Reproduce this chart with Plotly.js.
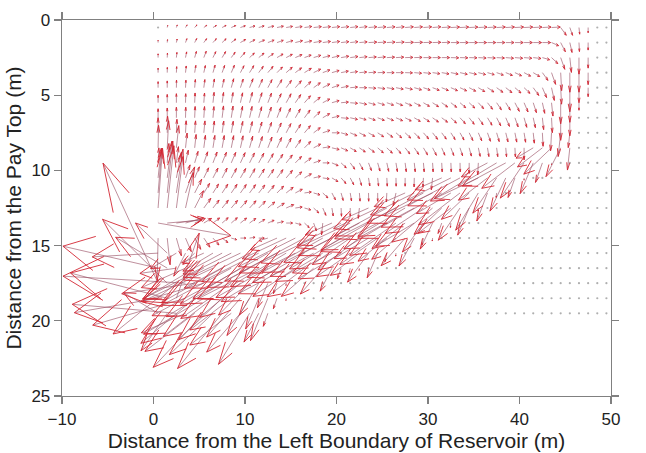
<!DOCTYPE html>
<html>
<head>
<meta charset="utf-8">
<script src="https://cdn.plot.ly/plotly-3.0.1.min.js"></script>
<style>html,body{margin:0;padding:0;background:#fff;}#chart{width:646px;height:453px;}</style>
</head>
<body>
<div id="chart"></div>
<script>
// Grid of the velocity field (m)
const gridX = [0.5,1.5,2.5,3.5,4.5,5.5,6.5,7.5,8.5,9.5,10.5,11.5,12.5,13.5,14.5,15.5,16.5,17.5,18.5,19.5,
  20.5,21.5,22.5,23.5,24.5,25.5,26.5,27.5,28.5,29.5,30.5,31.5,32.5,33.5,34.5,35.5,36.5,37.5,38.5,39.5,
  40.5,41.5,42.5,43.5,44.5,45.5,46.5,47.5,48.5,49.5];
const gridY = [0.5,1.5,2.5,3.5,4.5,5.5,6.5,7.5,8.5,9.5,10.5,11.5,12.5,13.5,14.5,15.5,16.5,17.5,18.5,19.5];

// Drawn arrow length (m) per row (depth) and column
const arrowLength = [
 [0.05,0.15,0.2,0.25,0.3,0.35,0.4,0.45,0.5,0.55, 0.6,0.6,0.65,0.7,0.7,0.75,0.8,0.85,0.85,0.85, 0.85,0.85,0.85,0.9,0.9,0.9,0.9,0.9,0.9,0.9, 0.9,0.95,0.95,0.95,0.95,0.95,0.95,0.95,0.95,0.95, 0.95,0.95,0.95,0.95,0.8,0.6,0.45,0.35,0.05,0.05],
 [0.15,0.2,0.25,0.3,0.35,0.4,0.45,0.5,0.55,0.6, 0.6,0.65,0.7,0.7,0.75,0.8,0.8,0.85,0.85,0.85, 0.85,0.85,0.85,0.9,0.9,0.9,0.9,0.9,0.9,0.9, 0.9,0.9,0.9,0.9,0.9,0.9,0.9,0.9,0.9,0.9, 0.9,0.9,0.9,0.8,0.8,0.7,0.6,0.5,0.05,0.05],
 [0.25,0.3,0.35,0.4,0.45,0.5,0.5,0.55,0.55,0.6, 0.6,0.65,0.65,0.7,0.7,0.75,0.75,0.8,0.8,0.8, 0.85,0.85,0.85,0.85,0.85,0.85,0.85,0.85,0.85,0.85, 0.85,0.85,0.85,0.85,0.85,0.85,0.85,0.85,0.85,0.85, 0.85,0.85,0.8,0.8,0.9,1.0,1.1,0.7,0.05,0.05],
 [0.3,0.35,0.4,0.45,0.5,0.5,0.55,0.55,0.6,0.6, 0.65,0.65,0.7,0.7,0.75,0.75,0.8,0.8,0.8,0.8, 0.8,0.8,0.8,0.8,0.8,0.8,0.8,0.8,0.8,0.8, 0.8,0.8,0.8,0.8,0.8,0.8,0.75,0.75,0.75,0.75, 0.75,0.75,0.8,0.9,1.2,1.3,1.3,0.8,0.05,0.05],
 [0.4,0.45,0.5,0.5,0.55,0.55,0.6,0.6,0.65,0.65, 0.7,0.7,0.7,0.75,0.75,0.8,0.8,0.8,0.8,0.8, 0.8,0.8,0.8,0.8,0.8,0.8,0.8,0.8,0.8,0.75, 0.75,0.75,0.75,0.75,0.75,0.75,0.75,0.75,0.75,0.75, 0.75,0.8,0.8,0.9,1.1,1.6,1.0,0.6,0.05,0.05],
 [0.5,0.55,0.6,0.6,0.65,0.65,0.7,0.7,0.7,0.7, 0.75,0.75,0.75,0.75,0.8,0.8,0.8,0.8,0.8,0.8, 0.8,0.8,0.8,0.75,0.75,0.75,0.75,0.75,0.7,0.7, 0.7,0.7,0.7,0.7,0.7,0.7,0.7,0.7,0.7,0.75, 0.75,0.75,0.75,0.9,1.4,1.3,0.5,0.1,0.05,0.05],
 [0.6,0.65,0.7,0.7,0.75,0.75,0.75,0.8,0.8,0.8, 0.8,0.8,0.8,0.8,0.8,0.8,0.8,0.8,0.8,0.8, 0.8,0.8,0.75,0.75,0.75,0.75,0.75,0.7,0.7,0.7, 0.7,0.7,0.7,0.7,0.7,0.7,0.7,0.7,0.7,0.7, 0.7,0.7,0.8,1.0,1.5,1.2,0.1,0.05,0.05,0.05],
 [1.0,1.1,0.9,0.8,0.8,0.8,0.8,0.8,0.8,0.8, 0.8,0.8,0.8,0.8,0.8,0.8,0.8,0.8,0.8,0.8, 0.75,0.75,0.7,0.7,0.7,0.7,0.7,0.7,0.7,0.7, 0.7,0.65,0.65,0.65,0.65,0.65,0.65,0.65,0.65,0.65, 0.65,0.7,0.9,1.2,1.6,1.0,0.1,0.05,0.05,0.05],
 [1.5,1.8,1.5,1.0,0.9,0.85,0.85,0.85,0.85,0.85, 0.85,0.85,0.85,0.85,0.85,0.8,0.8,0.8,0.8,0.8, 0.75,0.7,0.7,0.7,0.7,0.7,0.65,0.65,0.65,0.65, 0.65,0.6,0.6,0.6,0.6,0.6,0.6,0.6,0.6,0.6, 0.8,2.0,3.0,3.5,2.5,1.5,0.05,0.05,0.05,0.05],
 [1.0,1.3,1.1,0.9,0.85,0.85,0.85,0.85,0.85,0.85, 0.85,0.85,0.85,0.85,0.85,0.8,0.8,0.75,0.7,0.7, 0.65,0.65,0.6,0.6,0.6,0.6,0.6,0.6,0.6,0.6, 0.6,0.6,0.6,0.6,0.7,0.8,3.0,4.5,5.0,4.0, 3.5,2.5,1.5,0.12,0.05,0.05,0.05,0.05,0.05,0.05],
 [2.0,2.5,1.8,1.0,0.9,0.85,0.85,0.85,0.85,0.85, 0.85,0.85,0.85,0.85,0.85,0.8,0.8,0.75,0.7,0.7, 0.65,0.6,0.55,0.55,0.55,0.55,0.55,0.55,0.6,0.6, 0.8,3.0,5.0,6.0,4.5,5.0,3.5,3.5,2.8,1.5, 0.15,0.05,0.05,0.05,0.05,0.05,0.05,0.05,0.05,0.05],
 [3.0,3.5,3.0,2.0,1.2,0.9,0.85,0.85,0.85,0.85, 0.85,0.85,0.85,0.85,0.85,0.8,0.75,0.7,0.65,0.6, 0.55,0.55,0.55,0.55,0.55,0.6,0.9,3.5,5.0,6.5, 5.5,7.0,4.0,5.0,3.5,3.5,2.2,0.3,0.05,0.05, 0.05,0.05,0.05,0.05,0.05,0.05,0.05,0.05,0.05,0.05],
 [4.0,4.2,3.5,2.5,1.5,1.0,0.85,0.85,0.85,0.85, 0.85,0.85,0.85,0.85,0.85,0.75,0.7,0.65,0.6,0.55, 0.55,0.55,0.7,3.0,5.0,6.0,7.0,5.5,6.5,4.5, 5.0,3.5,4.0,3.2,2.2,0.2,0.05,0.05,0.05,0.05, 0.05,0.05,0.05,0.05,0.05,0.05,0.05,0.05,0.05,0.05],
 [8.0,3.8,2.8,2.0,1.2,0.9,0.8,0.75,0.75,0.75, 0.75,0.7,0.7,0.7,0.7,0.65,0.6,0.6,0.8,3.0, 5.0,6.0,7.0,5.5,6.5,5.0,5.5,4.0,4.5,3.0, 2.2,0.8,0.3,0.05,0.05,0.05,0.05,0.05,0.05,0.05, 0.05,0.05,0.05,0.05,0.05,0.05,0.05,0.05,0.05,0.05],
 [2.8,1.8,1.3,1.1,1.0,0.9,0.8,0.7,0.6,0.6, 0.6,0.6,1.0,3.0,5.0,6.5,7.5,6.0,7.0,5.5, 6.0,4.5,5.0,4.0,4.5,3.5,3.0,3.2,2.5,0.5, 0.2,0.05,0.05,0.05,0.05,0.05,0.05,0.05,0.05,0.05, 0.05,0.05,0.05,0.05,0.05,0.05,0.05,0.05,0.05,0.05],
 [7.2,4.0,3.0,2.0,1.5,2.5,3.5,4.5,5.5,6.5, 7.5,6.5,7.0,6.0,6.5,5.5,6.0,5.0,5.5,4.5, 5.0,4.0,3.5,3.0,2.0,0.6,0.2,0.05,0.05,0.05, 0.05,0.05,0.05,0.05,0.05,0.05,0.05,0.05,0.05,0.05, 0.05,0.05,0.05,0.05,0.05,0.05,0.05,0.05,0.05,0.05],
 [10.5,6.0,4.0,5.0,6.0,7.0,8.0,7.0,8.0,7.0, 6.5,7.0,6.0,6.5,5.5,5.0,4.5,4.0,3.0,2.0, 0.8,0.3,0.15,0.05,0.05,0.05,0.05,0.05,0.05,0.05, 0.05,0.05,0.05,0.05,0.05,0.05,0.05,0.05,0.05,0.05, 0.05,0.05,0.05,0.05,0.05,0.05,0.05,0.05,0.05,0.05],
 [10.0,8.25,7.7,13.4,8.0,7.0,7.0,6.5,6.0,5.0, 4.0,3.0,2.0,0.8,0.15,0.05,0.05,0.05,0.05,0.05, 0.05,0.05,0.05,0.05,0.05,0.05,0.05,0.05,0.05,0.05, 0.05,0.05,0.05,0.05,0.05,0.05,0.05,0.05,0.05,0.05, 0.05,0.05,0.05,0.05,0.05,0.05,0.05,0.05,0.05,0.05],
 [9.2,10.7,5.0,10.3,6.6,7.0,6.0,5.5,5.0,4.5, 3.5,2.5,3.4,0.8,0.15,0.05,0.05,0.05,0.05,0.05, 0.05,0.05,0.05,0.05,0.05,0.05,0.05,0.05,0.05,0.05, 0.05,0.05,0.05,0.05,0.05,0.05,0.05,0.05,0.05,0.05, 0.05,0.05,0.05,0.05,0.05,0.05,0.05,0.05,0.05,0.05],
 [4.0,3.8,11.4,5.0,6.0,6.6,5.5,6.1,5.0,4.5, 4.8,2.5,1.0,0.1,0.05,0.05,0.05,0.05,0.05,0.05, 0.05,0.05,0.05,0.05,0.05,0.05,0.05,0.05,0.05,0.05, 0.05,0.05,0.05,0.05,0.05,0.05,0.05,0.05,0.05,0.05, 0.05,0.05,0.05,0.05,0.05,0.05,0.05,0.05,0.05,0.05]
];

// Arrow direction (degrees, 0 = +x, 90 = towards the pay top)
const arrowAngle = [
 [90,70,60,45,35,25,20,18,15,12, 10,10,8,7,6,5,5,4,4,4, 4,4,4,3,3,3,3,3,3,3, 3,2,2,2,2,2,2,2,2,2, 2,2,2,2,-40,-60,-80,-90,-90,-90],
 [90,80,70,60,50,40,35,30,25,20, 18,15,13,12,10,9,8,6,5,5, 4,4,3,2,2,2,2,1,1,1, 1,1,0,0,0,0,0,0,0,0, 0,0,0,-15,-50,-70,-85,-90,-90,-90],
 [90,85,80,72,65,58,52,46,40,35, 30,27,24,20,18,15,13,11,9,8, 6,5,4,3,3,2,2,1,1,0, 0,0,-1,-1,-1,-2,-2,-2,-3,-3, -3,-4,-10,-30,-60,-80,-90,-90,-90,-90],
 [90,88,85,80,75,70,65,60,55,50, 45,40,36,32,28,25,21,17,13,10, 7,5,3,2,1,0,0,-1,-3,-4, -5,-6,-7,-8,-8,-9,-10,-12,-14,-16, -18,-20,-40,-60,-85,-90,-90,-90,-90,-90],
 [90,90,88,85,82,78,75,70,66,62, 58,54,50,45,40,35,30,24,18,12, 7,3,0,-3,-5,-6,-7,-8,-10,-12, -13,-14,-15,-16,-18,-20,-22,-24,-26,-28, -30,-40,-55,-70,-85,-90,-90,-90,-90,-90],
 [90,90,90,88,86,83,80,77,74,70, 66,62,58,53,48,42,35,27,18,10, 3,-3,-8,-10,-11,-12,-14,-15,-18,-20, -22,-24,-26,-28,-30,-34,-38,-42,-45,-50, -55,-62,-70,-80,-90,-90,-90,-90,-90,-90],
 [90,90,90,88,86,84,82,79,76,73, 70,66,62,58,53,47,40,30,20,8, -3,-8,-10,-12,-13,-14,-15,-18,-20,-22, -24,-25,-30,-34,-38,-42,-45,-50,-55,-60, -65,-70,-80,-85,-90,-90,-90,-90,-90,-90],
 [90,88,86,85,83,81,79,77,74,71, 68,64,60,55,50,44,36,25,12,0, -10,-15,-18,-20,-22,-25,-28,-30,-33,-35, -38,-40,-44,-48,-52,-55,-60,-64,-68,-72, -75,-80,-85,-95,-100,-100,-90,-90,-90,-90],
 [88,85,80,80,80,78,76,74,72,70, 66,62,58,54,50,42,32,18,5,-8, -15,-20,-23,-25,-28,-30,-35,-38,-42,-46, -50,-55,-58,-62,-66,-70,-75,-78,-82,-85, -90,200,205,210,230,-100,-90,-90,-90,-90],
 [85,82,78,70,64,60,58,56,55,53, 51,49,46,42,38,32,24,12,0,-15, -30,-40,-50,-58,-65,-70,-75,-78,-80,-82, -84,-85,-86,-88,-90,-95,198,200,198,205, 222,235,240,-90,-90,-90,-90,-90,-90,-90],
 [80,78,72,60,55,52,50,50,48,47, 46,44,42,40,36,30,20,8,-5,-20, -35,-50,-65,-75,-80,-85,-88,-90,-92,-95, -100,195,197,198,200,196,205,222,232,240, -90,-90,-90,-90,-90,-90,-90,-90,-90,-90],
 [82,80,76,60,50,45,44,43,42,41, 40,38,36,32,26,18,5,-10,-30,-50, -65,-75,-82,-88,-90,-95,-110,195,197,198, 196,199,200,205,210,225,238,-100,-90,-90, -90,-90,-90,-90,-90,-90,-90,-90,-90,-90],
 [83,80,78,70,50,40,38,37,36,35, 34,32,28,22,15,5,-10,-30,-55,-75, -85,-90,-100,195,196,198,197,200,198,202, 207,210,205,222,235,-100,-90,-90,-90,-90, -90,-90,-90,-90,-90,-90,-90,-90,-90,-90],
 [-6,3,5,10,15,20,25,28,28,26, 24,20,15,8,0,-10,-30,-60,-100,195, 197,196,198,199,197,200,203,205,200,220, 232,240,-100,-90,-90,-90,-90,-90,-90,-90, -90,-90,-90,-90,-90,-90,-90,-90,-90,-90],
 [-92,-80,-65,-55,-48,-42,-35,-25,-10,0, 5,0,190,195,196,197,198,196,199,197, 200,203,205,200,203,206,208,215,228,-110, -100,-90,-90,-90,-90,-90,-90,-90,-90,-90, -90,-90,-90,-90,-90,-90,-90,-90,-90,-90],
 [182,150,200,230,210,195,200,198,197,196, 198,197,199,198,200,197,199,198,200,197, 200,203,205,220,235,-110,-100,-90,-90,-90, -90,-90,-90,-90,-90,-90,-90,-90,-90,-90, -90,-90,-90,-90,-90,-90,-90,-90,-90,-90],
 [172,160,185,195,200,197,196,199,198,200, 198,197,199,200,198,202,205,208,215,230, 240,-110,-100,-90,-90,-90,-90,-90,-90,-90, -90,-90,-90,-90,-90,-90,-90,-90,-90,-90, -90,-90,-90,-90,-90,-90,-90,-90,-90,-90],
 [127,149,206,178,185,190,198,200,203,207, 212,225,235,240,-100,-90,-90,-90,-90,-90, -90,-90,-90,-90,-90,-90,-90,-90,-90,-90, -90,-90,-90,-90,-90,-90,-90,-90,-90,-90, -90,-90,-90,-90,-90,-90,-90,-90,-90,-90],
 [186,171,60,190,207,200,205,210,205,215, 225,235,236,240,-100,-90,-90,-90,-90,-90, -90,-90,-90,-90,-90,-90,-90,-90,-90,-90, -90,-90,-90,-90,-90,-90,-90,-90,-90,-90, -90,-90,-90,-90,-90,-90,-90,-90,-90,-90],
 [160,221,177,195,205,213,210,217,205,215, 225,230,240,-90,-90,-90,-90,-90,-90,-90, -90,-90,-90,-90,-90,-90,-90,-90,-90,-90, -90,-90,-90,-90,-90,-90,-90,-90,-90,-90, -90,-90,-90,-90,-90,-90,-90,-90,-90,-90]
];

const xTicks = [-10, 0, 10, 20, 30, 40, 50];
const yTicks = [0, 5, 10, 15, 20, 25];

// Build quiver geometry (MATLAB-style arrow heads)
const shaftX = [], shaftY = [], headX = [], headY = [], dotX = [], dotY = [];
const alpha = 0.33, beta = 0.33;
for (let r = 0; r < gridY.length; r++) {
  for (let c = 0; c < gridX.length; c++) {
    const len = arrowLength[r][c];
    const ang = arrowAngle[r][c] * Math.PI / 180;
    const x = gridX[c], y = gridY[r];
    if (len < 0.12) { dotX.push(x); dotY.push(y); continue; }
    const u = len * Math.cos(ang);
    const v = -len * Math.sin(ang);
    const tx = x + u, ty = y + v;
    shaftX.push(x, tx, null); shaftY.push(y, ty, null);
    headX.push(tx - alpha * (u + beta * v), tx, tx - alpha * (u - beta * v), null);
    headY.push(ty - alpha * (v - beta * u), ty, ty - alpha * (v + beta * u), null);
  }
}

const traces = [
  {type: 'scatter', mode: 'markers', x: dotX, y: dotY, hoverinfo: 'skip',
   marker: {size: 2.2, color: 'rgb(175,175,175)'}},
  {type: 'scatter', mode: 'lines', x: shaftX, y: shaftY, hoverinfo: 'skip', connectgaps: false,
   line: {color: 'rgba(155,80,100,0.8)', width: 0.8}},
  {type: 'scatter', mode: 'lines', x: headX, y: headY, hoverinfo: 'skip', connectgaps: false,
   line: {color: 'rgb(212,38,50)', width: 0.9}}
];

const axisCommon = {
  showline: true, linecolor: '#808080', linewidth: 1.3, mirror: 'ticks',
  ticks: 'outside', ticklen: 7, tickwidth: 1.2, tickcolor: '#808080',
  showgrid: false, zeroline: false, automargin: false,
  tickfont: {family: 'Liberation Sans, Arial, sans-serif', size: 17, color: '#222'}
};

const layout = {
  width: 646, height: 453,
  margin: {l: 62, r: 35, t: 20, b: 57},
  paper_bgcolor: '#ffffff', plot_bgcolor: '#ffffff',
  showlegend: false,
  font: {family: 'Liberation Sans, Arial, sans-serif', color: '#222'},
  xaxis: Object.assign({}, axisCommon, {
    range: [-10, 50], tickvals: xTicks,
    title: {text: 'Distance from the Left Boundary of Reservoir (m)',
            font: {family: 'Liberation Sans, Arial, sans-serif', size: 21, color: '#222'}, standoff: 4}
  }),
  yaxis: Object.assign({}, axisCommon, {
    range: [25, 0], tickvals: yTicks,
    title: {text: 'Distance from the Pay Top (m)',
            font: {family: 'Liberation Sans, Arial, sans-serif', size: 21, color: '#222'}, standoff: 4}
  })
};

Plotly.newPlot('chart', traces, layout, {staticPlot: true, displayModeBar: false});
</script>
</body>
</html>
